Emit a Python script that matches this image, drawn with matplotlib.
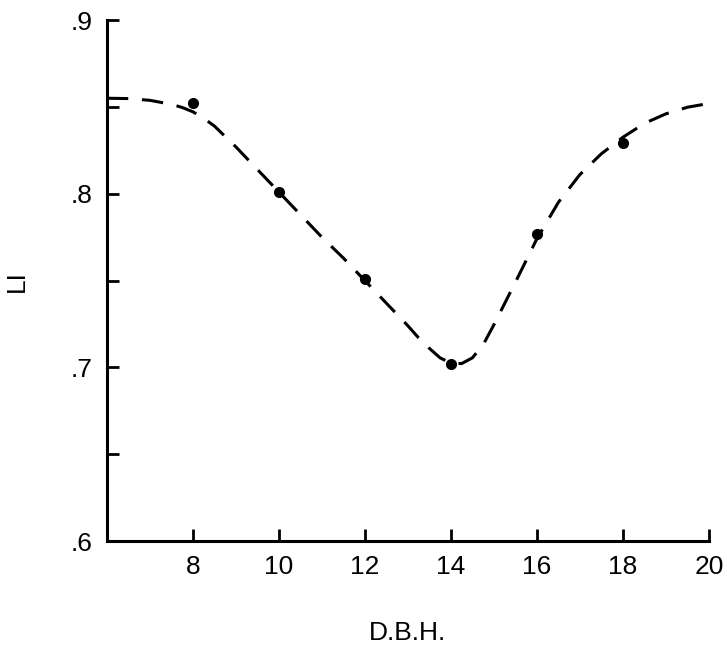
import matplotlib.pyplot as plt
import matplotlib
from matplotlib.ticker import FixedLocator, FuncFormatter

matplotlib.rc('font', family='Liberation Sans')

# observed points
dbh = [8, 10, 12, 14, 16, 18]
li = [0.852, 0.801, 0.751, 0.702, 0.777, 0.829]

# fitted dashed curve
curve_x = [6, 6.5, 7, 7.5, 7.75, 8, 8.25, 8.5, 9, 9.5, 10, 10.5, 11, 11.5, 12, 12.5,
           13, 13.25, 13.5, 13.75, 14, 14.25, 14.5, 14.75, 15, 15.5, 16, 16.5, 17,
           17.5, 18, 18.5, 19, 19.5, 20]
curve_y = [0.855, 0.8548, 0.8538, 0.8515, 0.8497, 0.8472, 0.8435, 0.839, 0.827, 0.814,
           0.801, 0.788, 0.775, 0.763, 0.750, 0.737, 0.724, 0.717, 0.711, 0.7055,
           0.7025, 0.7022, 0.7055, 0.713, 0.7245, 0.749, 0.774, 0.795, 0.811,
           0.823, 0.8325, 0.8405, 0.846, 0.8498, 0.852]

x_ticks = [8, 10, 12, 14, 16, 18, 20]
y_ticks = [0.6, 0.65, 0.7, 0.75, 0.8, 0.85, 0.9]
y_labels = {0.6: '.6', 0.7: '.7', 0.8: '.8', 0.9: '.9'}

fig = plt.figure(figsize=(7.27, 6.48), dpi=100)
ax = fig.add_axes([0.147, 0.165, 0.828, 0.804])

ax.plot(curve_x, curve_y, color='black', lw=2.2, linestyle=(0, (7, 4.5)))
ax.plot(dbh, li, 'o', color='black', markersize=7)

ax.set_xlim(6, 20)
ax.set_ylim(0.6, 0.9)
ax.xaxis.set_major_locator(FixedLocator(x_ticks))
ax.yaxis.set_major_locator(FixedLocator(y_ticks))
ax.yaxis.set_major_formatter(FuncFormatter(lambda v, p: y_labels.get(round(v, 2), '')))

for s in ['top', 'right']:
    ax.spines[s].set_visible(False)
for s in ['left', 'bottom']:
    ax.spines[s].set_linewidth(2.2)

ax.tick_params(direction='in', length=8.5, width=2, labelsize=19, pad=10)
ax.set_xlabel("D.B.H.", fontsize=19, labelpad=30)
ax.set_ylabel("LI", fontsize=19, labelpad=30)

plt.savefig('out.png', dpi=100)
